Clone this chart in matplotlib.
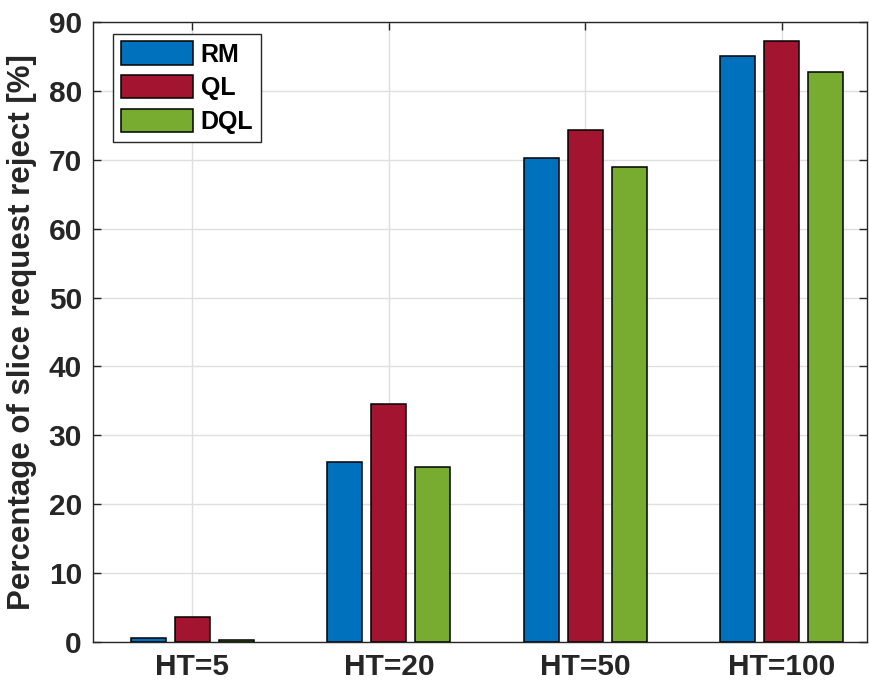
import matplotlib
matplotlib.use('Agg')
import matplotlib.pyplot as plt
import numpy as np

# ── Data ──────────────────────────────────────────────────────────────────────
CATEGORIES = ['HT=5', 'HT=20', 'HT=50', 'HT=100']
SERIES     = ['RM', 'QL', 'DQL']
RM_VALS    = [0.6, 26.1, 70.3, 85.0]
QL_VALS    = [3.7, 34.5, 74.3, 87.3]
DQL_VALS   = [0.3, 25.4, 68.9, 82.7]
COLORS     = ['#0072BD', '#A2142F', '#77AC30']
Y_TICKS    = [0, 10, 20, 30, 40, 50, 60, 70, 80, 90]

plt.rcParams['font.family'] = ['Liberation Sans', 'DejaVu Sans']
plt.rcParams['font.weight'] = 'bold'

fig = plt.figure(figsize=(8.69, 6.92), dpi=100)
# axes box in pixels: left 93, right 867, top 22, bottom 642
ax = fig.add_axes([93 / 869, 50 / 692, 774 / 869, 620 / 692])

x = np.arange(1, len(CATEGORIES) + 1)
width = 0.178
offset = 0.224
for i, (name, vals) in enumerate(zip(SERIES, [RM_VALS, QL_VALS, DQL_VALS])):
    ax.bar(x + (i - 1) * offset, vals, width, color=COLORS[i],
           edgecolor='black', linewidth=1.1, label=name, zorder=3)

ax.set_xlim(0.494, 4.433)
ax.set_ylim(0, 90)
ax.set_xticks(x)
ax.set_xticklabels(CATEGORIES, fontsize=21.5, fontweight='bold', color='#262626')
ax.set_yticks(Y_TICKS)
ax.set_yticklabels([str(t) for t in Y_TICKS], fontsize=21.5, fontweight='bold',
                   color='#262626')
ax.set_ylabel('Percentage of slice request reject [%]', fontsize=22.5,
              fontweight='bold', color='#262626', labelpad=8)

ax.grid(True, color='#dfdfdf', lw=1.0, zorder=0)
ax.set_axisbelow(True)
ax.tick_params(direction='in', length=6, width=1.0, color='#262626',
               top=True, right=True, pad=8)
for sp in ax.spines.values():
    sp.set_color('#262626')
    sp.set_linewidth(1.0)

leg = ax.legend(loc='upper left', bbox_to_anchor=(20 / 774, 1 - 12 / 620),
                prop={'size': 18, 'weight': 'bold'}, handlelength=2.9,
                handleheight=1.04, handletextpad=0.3, labelspacing=0.35,
                borderpad=0.3, borderaxespad=0, fancybox=False,
                framealpha=1.0, edgecolor='#262626')
leg.get_frame().set_linewidth(1.0)
for t in leg.get_texts():
    t.set_color('black')

fig.savefig('out.png', dpi=100)
